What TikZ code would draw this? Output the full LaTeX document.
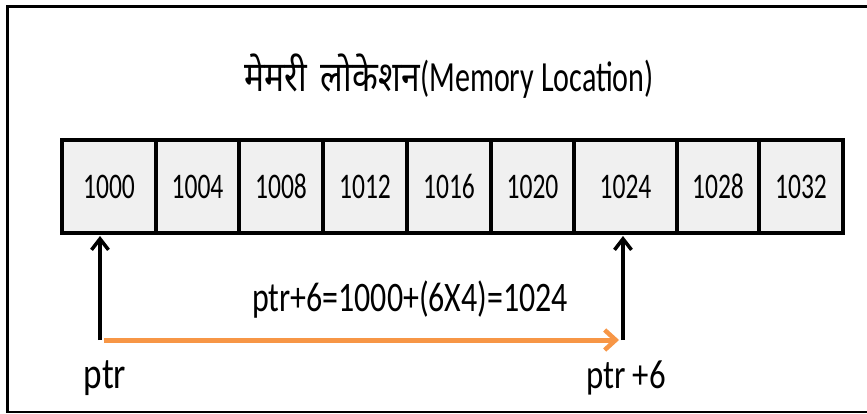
\documentclass[tikz,border=0pt]{standalone}
\usepackage{fontspec}
\setmainfont{Carlito}
\newfontfamily\latnarrow[FakeStretch=0.71]{Carlito}
\newfontfamily\latmid[FakeStretch=0.8]{Carlito}
\newfontfamily\latform[FakeStretch=0.76]{Carlito}
\newfontfamily\lattitle[FakeStretch=0.7]{Carlito}
\newfontfamily\devfont[Script=Devanagari,FakeStretch=0.8]{Noto Sans}
\usetikzlibrary{arrows.meta}
\definecolor{cellgray}{HTML}{F0F0F0}
\definecolor{arroworange}{HTML}{F79646}
\tikzset{
  cell/.style={draw=black, line width=4pt, fill=cellgray, inner sep=0pt,
    minimum height=93pt, font=\latnarrow\fontsize{36}{38}\selectfont},
  lbl/.style={inner sep=0pt, font=\latmid\fontsize{44}{46}\selectfont},
  ptrarrow/.style={draw=black, line width=3.5pt, -{Straight Barb[length=11pt,width=17pt,line width=3.5pt]}},
  movearrow/.style={draw=arroworange, line width=5pt, -{Straight Barb[length=11pt,width=20pt,line width=4.5pt]}},
}
\begin{document}
\begin{tikzpicture}[x=1pt,y=-1pt]
\useasboundingbox (0,0) rectangle (867,414);
\fill[white] (0,0) rectangle (867,414);
% frame
\draw[line width=2.7pt] (867,6.3) -- (7.3,6.3) -- (7.3,412) -- (867,412);
% title
\node[inner sep=0pt, anchor=base east] (titledev) at (420,92) {\devfont\fontsize{42}{44}\selectfont मेमरी\hspace{14pt}लोकेशन};
\node[inner sep=0pt, anchor=base west, font=\lattitle\fontsize{43}{45}\selectfont] (titlelat) at (420,92) {(Memory Location)};
% cells
\node[cell, minimum width=94pt] (c0) at (109,186.5) {1000};
\node[cell, minimum width=83pt] (c1) at (197.5,186.5) {1004};
\node[cell, minimum width=84pt] (c2) at (281,186.5) {1008};
\node[cell, minimum width=84pt] (c3) at (365,186.5) {1012};
\node[cell, minimum width=84pt] (c4) at (449,186.5) {1016};
\node[cell, minimum width=83pt] (c5) at (532.5,186.5) {1020};
\node[cell, minimum width=103pt] (c6) at (625.5,186.5) {1024};
\node[cell, minimum width=82pt] (c7) at (718,186.5) {1028};
\node[cell, minimum width=84pt] (c8) at (801,186.5) {1032};
% pointers
\coordinate (p0) at (100,340);
\coordinate (p0top) at (100,236);
\coordinate (p6) at (623,340);
\coordinate (p6top) at (623,236);
\coordinate (ostart) at (104,340);
\coordinate (oend) at (619,340);
\draw[ptrarrow] (p0) -- (p0top);
\draw[ptrarrow] (p6) -- (p6top);
\draw[movearrow] (ostart) -- (oend);
\node[lbl, font=\latform\fontsize{42}{44}\selectfont] (formula) at (410,300) {ptr+6=1000+(6X4)=1024};
\node[lbl] (ptrlbl) at (105,378) {ptr};
\node[lbl, font=\latmid\fontsize{41}{43}\selectfont] (ptr6lbl) at (626,378) {ptr +6};
\end{tikzpicture}
\end{document}
